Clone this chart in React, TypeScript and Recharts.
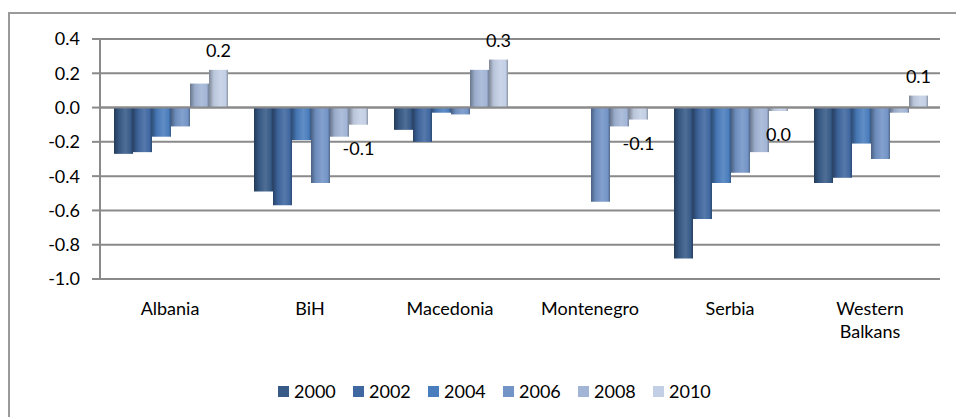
import React from "react";
import {
  BarChart,
  Bar,
  XAxis,
  YAxis,
  CartesianGrid,
  ReferenceLine,
  Legend,
  LabelList,
  Text,
} from "recharts";

const countries = ["Albania", "BiH", "Macedonia", "Montenegro", "Serbia", "Western Balkans"];
const years = ["2000", "2002", "2004", "2006", "2008", "2010"];

const v2000 = [-0.27, -0.49, -0.13, null, -0.88, -0.44];
const v2002 = [-0.26, -0.57, -0.2, null, -0.65, -0.41];
const v2004 = [-0.17, -0.19, -0.03, null, -0.44, -0.21];
const v2006 = [-0.11, -0.44, -0.04, -0.55, -0.38, -0.3];
const v2008 = [0.14, -0.17, 0.22, -0.11, -0.26, -0.03];
const v2010 = [0.22, -0.1, 0.28, -0.07, -0.02, 0.07];

const yTicks = [0.4, 0.2, 0, -0.2, -0.4, -0.6, -0.8, -1.0];

const seriesValues = [v2000, v2002, v2004, v2006, v2008, v2010];
const colors = ["#375a87", "#3f67a0", "#4a7dbd", "#7394c7", "#a2b5d6", "#c3cfe5"];

const data = countries.map((name, i) => {
  const row: any = { name };
  years.forEach((y, s) => {
    row[y] = seriesValues[s][i];
  });
  return row;
});

const FONT = "Lato, 'Liberation Sans', sans-serif";
const FS = 18;

function shade(hex: string, f: number) {
  const n = parseInt(hex.slice(1), 16);
  const ch = [(n >> 16) & 255, (n >> 8) & 255, n & 255].map((c) =>
    Math.max(0, Math.min(255, Math.round(f < 0 ? c * (1 + f) : c + (255 - c) * f)))
  );
  return "#" + ch.map((c) => c.toString(16).padStart(2, "0")).join("");
}

const fmt = (v: number) => (Math.abs(v) < 0.05 ? "0.0" : v.toFixed(1));

const EndLabel = (props: any) => {
  const { x, y, width, height, value } = props;
  if (value == null) return null;
  const top = Math.min(y, y + height);
  const bottom = Math.max(y, y + height);
  const ty = value >= 0 ? top - 20 : bottom + 23;
  return (
    <text
      x={x + width / 2}
      y={ty}
      textAnchor="middle"
      dominantBaseline="central"
      fontFamily={FONT}
      fontSize={FS}
      fill="#000"
    >
      {fmt(value)}
    </text>
  );
};

const CategoryTick = (props: any) => {
  const { x, y, payload } = props;
  return (
    <Text
      x={x}
      y={y + 17}
      width={95}
      textAnchor="middle"
      verticalAnchor="start"
      fontFamily={FONT}
      fontSize={FS}
      fill="#000"
      lineHeight={23}
    >
      {payload.value}
    </Text>
  );
};

const LegendContent = () => (
  <div style={{ display: "flex", fontFamily: FONT, fontSize: FS, color: "#000" }}>
    {years.map((y, i) => (
      <div key={y} style={{ display: "flex", alignItems: "center", width: 75 }}>
        <span style={{ width: 11, height: 11, background: colors[i], marginRight: 5 }} />
        <span>{y}</span>
      </div>
    ))}
  </div>
);

export default function App() {
  return (
    <div
      style={{
        marginTop: 4,
        width: 960,
        height: 405,
        borderLeft: "2px solid #9a9a9a",
        borderTop: "2px solid #9a9a9a",
        position: "relative",
      }}
    >
      <div style={{ position: "absolute", left: -2, top: -6 }}>
        <BarChart
          width={956}
          height={409}
          data={data}
          barGap={0}
          barCategoryGap="10%"
          margin={{ top: 31, right: 24, left: 0, bottom: 46 }}
        >
          <defs>
            {colors.map((c, i) => (
              <linearGradient key={i} id={`g${i}`} x1="0" y1="0" x2="1" y2="0">
                <stop offset="0%" stopColor={shade(c, -0.35)} />
                <stop offset="25%" stopColor={shade(c, -0.05)} />
                <stop offset="60%" stopColor={shade(c, 0.12)} />
                <stop offset="88%" stopColor={c} />
                <stop offset="100%" stopColor={shade(c, -0.3)} />
              </linearGradient>
            ))}
          </defs>
          <CartesianGrid vertical={false} stroke="#8a8a8a" strokeWidth={2} />
          <XAxis
            dataKey="name"
            axisLine={false}
            tickLine={false}
            height={70}
            tick={<CategoryTick />}
            tickMargin={0}
            interval={0}
          />
          <YAxis
            domain={[-1, 0.4]}
            ticks={yTicks}
            width={92}
            tickFormatter={(v: number) => v.toFixed(1)}
            stroke="#8a8a8a"
            strokeWidth={2}
            tickSize={8}
            tickMargin={12}
            tick={{ fill: "#000", fontFamily: FONT, fontSize: FS }}
            interval={0}
          />
          <ReferenceLine y={0} stroke="#8a8a8a" strokeWidth={2} />
          {years.map((y, i) => (
            <Bar key={y} dataKey={y} fill={`url(#g${i})`} isAnimationActive={false}>
              {i === years.length - 1 && <LabelList dataKey={y} content={<EndLabel />} />}
            </Bar>
          ))}
          <Legend
            content={<LegendContent />}
            wrapperStyle={{ position: "absolute", left: 270, top: 372, width: 470 }}
          />
        </BarChart>
      </div>
    </div>
  );
}
